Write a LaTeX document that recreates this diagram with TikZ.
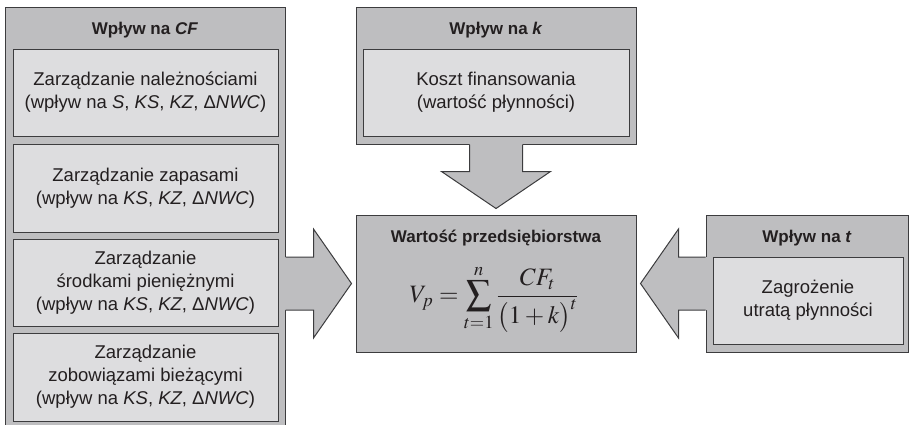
\documentclass[tikz,border=0pt]{standalone}
\usepackage{mathptmx}
\usepackage[no-math]{fontspec}
\setmainfont{Liberation Sans}
\usetikzlibrary{calc}
\definecolor{outclr}{RGB}{190,190,192}
\definecolor{inclr}{RGB}{221,221,223}
\definecolor{lineclr}{RGB}{60,60,62}
\definecolor{txtclr}{RGB}{35,31,32}
\tikzset{
  panel/.style={rectangle,draw=lineclr,fill=outclr,line width=1pt,inner sep=0pt},
  item/.style={rectangle,draw=lineclr,fill=inclr,line width=1pt,inner sep=0pt,
               align=center,text=txtclr,font=\fontsize{18.5}{23}\selectfont},
  head/.style={text=txtclr,font=\fontsize{17}{20}\selectfont\bfseries},
  barrow/.style={draw=lineclr,line width=1pt,line join=miter},
}

\begin{document}
\begin{tikzpicture}[x=1pt, y=-1pt]
\useasboundingbox (0,0) rectangle (909,424);
\clip (0,0) rectangle (909,424);

% ── left panel: Wpływ na CF
\node[panel,minimum width=280,minimum height=420] (cf) at (145,217) {};
\node[head] (cft) at (145,30) {Wpływ na \textit{CF}};
\node[item,minimum width=265,minimum height=87] (nal) at (145.5,92.5)
  {Zarządzanie należnościami\\(wpływ na \textit{S}, \textit{KS}, \textit{KZ}, Δ\textit{NWC})};
\node[item,minimum width=265,minimum height=88] (zap) at (145.5,188)
  {Zarządzanie zapasami\\(wpływ na \textit{KS}, \textit{KZ}, Δ\textit{NWC})};
\node[item,minimum width=265,minimum height=87] (sro) at (145.5,282.5)
  {Zarządzanie\\środkami pieniężnymi\\(wpływ na \textit{KS}, \textit{KZ}, Δ\textit{NWC})};
\node[item,minimum width=265,minimum height=88] (zob) at (145.5,377)
  {Zarządzanie\\zobowiązami bieżącymi\\(wpływ na \textit{KS}, \textit{KZ}, Δ\textit{NWC})};

% ── top panel: Wpływ na k
\node[panel,minimum width=280,minimum height=137] (fk) at (496,75.5) {};
\node[head] (fkt) at (496,30) {Wpływ na \textit{k}};
\node[item,minimum width=266,minimum height=87] (kos) at (496,92.5)
  {Koszt finansowania\\(wartość płynności)};

% ── centre panel: Wartość przedsiębiorstwa
\node[panel,minimum width=280,minimum height=137] (val) at (496,283.5) {};
\node[head] (valt) at (496,238) {Wartość przedsiębiorstwa};
\node[text=txtclr,font=\fontsize{25}{29}\selectfont] (wzor) at (494,299)
  {$\displaystyle V_p=\sum_{t=1}^{n}\frac{CF_t}{\bigl(1+k\bigr)^t}$};

% ── right panel: Wpływ na t
\node[panel,minimum width=202,minimum height=137] (ft) at (807,283.5) {};
\node[head] (ftt) at (807,238) {Wpływ na \textit{t}};
\node[item,minimum width=190,minimum height=87] (zag) at (808,300.5)
  {Zagrożenie\\utratą płynności};

% ── block arrows
\coordinate (ra) at (cf.east |- val.west);
\coordinate (rb) at ($(val.west)+(-4,0)$);
\fill[outclr] ($(ra)+(-3,-26.5)$) -- ($(rb)+(-38,-26.5)$) -- ($(rb)+(-38,-54.5)$) -- (rb)
  -- ($(rb)+(-38,54.5)$) -- ($(rb)+(-38,26.5)$) -- ($(ra)+(-3,26.5)$) -- cycle;
\draw[barrow] ($(ra)+(0,-26.5)$) -- ($(rb)+(-38,-26.5)$) -- ($(rb)+(-38,-54.5)$) -- (rb)
  -- ($(rb)+(-38,54.5)$) -- ($(rb)+(-38,26.5)$) -- ($(ra)+(0,26.5)$);

\coordinate (da) at (fk.south);
\coordinate (db) at ($(val.north)+(0,-6)$);
\fill[outclr] ($(da)+(-26.5,-3)$) -- ($(db)+(-26.5,-37)$) -- ($(db)+(-54.5,-37)$) -- (db)
  -- ($(db)+(54.5,-37)$) -- ($(db)+(26.5,-37)$) -- ($(da)+(26.5,-3)$) -- cycle;
\draw[barrow] ($(da)+(-26.5,0)$) -- ($(db)+(-26.5,-37)$) -- ($(db)+(-54.5,-37)$) -- (db)
  -- ($(db)+(54.5,-37)$) -- ($(db)+(26.5,-37)$) -- ($(da)+(26.5,0)$);

\coordinate (la) at (ft.west |- val.east);
\coordinate (lb) at ($(val.east)+(4,0)$);
\fill[outclr] ($(la)+(3,-26.5)$) -- ($(lb)+(38,-26.5)$) -- ($(lb)+(38,-54.5)$) -- (lb)
  -- ($(lb)+(38,54.5)$) -- ($(lb)+(38,26.5)$) -- ($(la)+(3,26.5)$) -- cycle;
\draw[barrow] ($(la)+(0,-26.5)$) -- ($(lb)+(38,-26.5)$) -- ($(lb)+(38,-54.5)$) -- (lb)
  -- ($(lb)+(38,54.5)$) -- ($(lb)+(38,26.5)$) -- ($(la)+(0,26.5)$);

\end{tikzpicture}
\end{document}
